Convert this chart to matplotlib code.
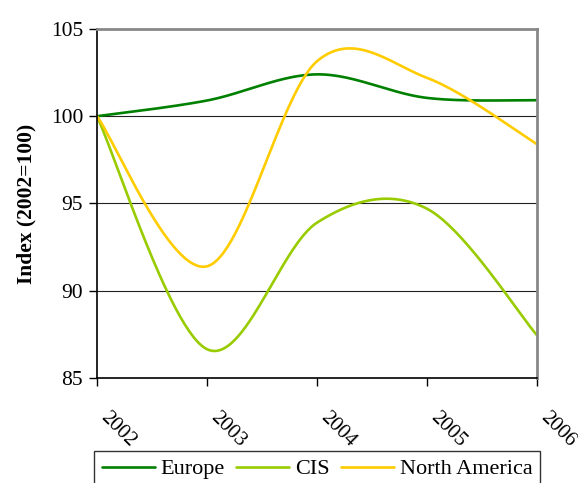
import numpy as np
import matplotlib
matplotlib.use("Agg")
import matplotlib.pyplot as plt

years = [2002, 2003, 2004, 2005, 2006]
europe = [100.0, 100.9, 102.4, 101.05, 100.92]
cis = [100.0, 86.65, 93.9, 94.7, 87.45]
north_america = [100.0, 91.4, 103.15, 102.2, 98.4]
series_names = ["Europe", "CIS", "North America"]
colors = ["#008000", "#99CC00", "#FFCC00"]

plt.rcParams['font.family'] = ['Liberation Serif', 'DejaVu Serif']


def smooth(x, y, n=60):
    # Excel-style smoothed line (Catmull-Rom Bezier through the data points)
    x = np.asarray(x, float)
    y = np.asarray(y, float)
    px = np.concatenate([[x[0]], x, [x[-1]]])
    py = np.concatenate([[y[0]], y, [y[-1]]])
    xs, ys = [], []
    t = np.linspace(0, 1, n)
    for i in range(1, len(px) - 2):
        p0 = np.array([px[i], py[i]])
        p3 = np.array([px[i + 1], py[i + 1]])
        p1 = p0 + (np.array([px[i + 1], py[i + 1]]) - np.array([px[i - 1], py[i - 1]])) / 6
        p2 = p3 - (np.array([px[i + 2], py[i + 2]]) - np.array([px[i], py[i]])) / 6
        b = ((1 - t) ** 3)[:, None] * p0 + (3 * (1 - t) ** 2 * t)[:, None] * p1 \
            + (3 * (1 - t) * t ** 2)[:, None] * p2 + (t ** 3)[:, None] * p3
        xs.append(b[:, 0])
        ys.append(b[:, 1])
    return np.concatenate(xs), np.concatenate(ys)


fig = plt.figure(figsize=(5.78, 4.83), dpi=100)
ax = fig.add_axes([0.1678, 0.2174, 0.929 - 0.1678, 0.94 - 0.2174])

for name, vals, c in zip(series_names, [europe, cis, north_america], colors):
    sx, sy = smooth(years, vals)
    ax.plot(sx, sy, color=c, lw=1.9, label=name, solid_capstyle='round')

ax.set_xlim(2002, 2006)
ax.set_ylim(85, 105)
ax.set_yticks([85, 90, 95, 100, 105])
ax.set_xticks(years)
for yv in [90, 95, 100]:
    ax.axhline(yv, color='#222222', lw=0.8, zorder=0)

ax.spines['top'].set_color('#888888')
ax.spines['right'].set_color('#888888')
ax.spines['top'].set_linewidth(2)
ax.spines['right'].set_linewidth(2)
ax.spines['left'].set_linewidth(1.2)
ax.spines['bottom'].set_linewidth(1.2)

ax.tick_params(axis='y', direction='out', length=6, width=1, labelsize=15.5, pad=4)
ax.tick_params(axis='x', direction='out', length=6, width=1, labelsize=15, pad=16)
for lab in ax.get_xticklabels():
    lab.set_rotation(-45)
    lab.set_ha('left')
    lab.set_va('top')

ax.set_ylabel("Index (2002=100)", fontsize=15.5, fontweight='bold', labelpad=10)

leg = fig.legend(loc='upper left', bbox_to_anchor=(94 / 578, 1 - 451 / 483), ncol=3,
                 fontsize=16, frameon=True, fancybox=False, edgecolor='black',
                 handlelength=2.4, handletextpad=0.25, columnspacing=0.5,
                 borderpad=0.35, borderaxespad=0)
leg.get_frame().set_linewidth(1.0)

fig.savefig("out.png", dpi=100)
